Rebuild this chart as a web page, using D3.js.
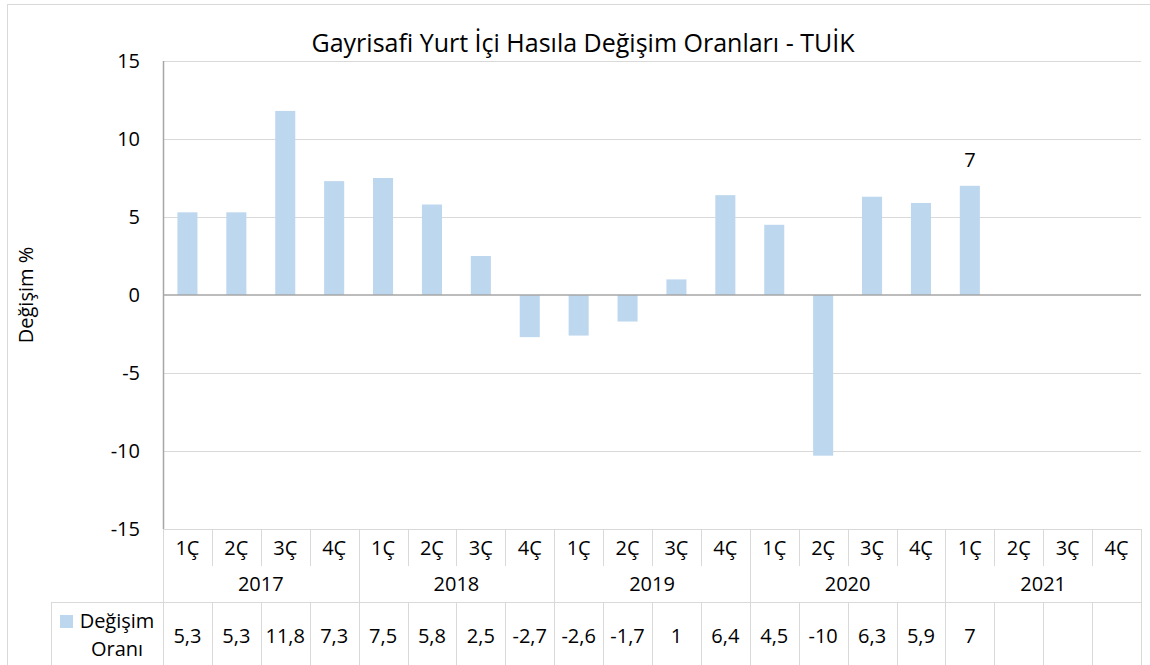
<!DOCTYPE html>
<html>
<head>
<meta charset="utf-8">
<script src="https://cdn.jsdelivr.net/npm/d3@7"></script>
<style>
  body { margin: 0; background: #fff; }
  text { font-family: "Open Sans", sans-serif; fill: #000; }
</style>
</head>
<body>
<svg id="chart" width="1150" height="665"></svg>
<script>
// Chart data
var years = ["2017", "2018", "2019", "2020", "2021"];
var quarters = ["1Ç", "2Ç", "3Ç", "4Ç"];
// bar heights (null = no data yet)
var values = [5.3, 5.3, 11.8, 7.3, 7.5, 5.8, 2.5, -2.7, -2.6, -1.7, 1, 6.4, 4.5, -10.3, 6.3, 5.9, 7, null, null, null];
// numbers as printed in the data table
var tableText = ["5,3", "5,3", "11,8", "7,3", "7,5", "5,8", "2,5", "-2,7", "-2,6", "-1,7", "1", "6,4", "4,5", "-10", "6,3", "5,9", "7", "", "", ""];
var yTicks = [15, 10, 5, 0, -5, -10, -15];
var titleText = "Gayrisafi Yurt İçi Hasıla Değişim Oranları - TUİK";
var yAxisName = "Değişim %";
var seriesName = ["Değişim", "Oranı"];

var fontSize = "20px";

// one key per quarter
var keys = [];
years.forEach(function(y) {
    quarters.forEach(function(q) { keys.push(y + "-" + q); });
});

var svg = d3.select("#chart");

// Scales
var scaleX = d3.scaleBand()
    .domain(keys)
    .range([163, 1141])
    .paddingInner(0.59)
    .paddingOuter(0.295);

var scaleY = d3.scaleLinear()
    .domain([-15, 15])
    .range([529, 61]);

// left edge of the cell of a category
function cellLeft(k) {
    return scaleX(k) + scaleX.bandwidth() / 2 - scaleX.step() / 2;
}

var gridColor = "#d9d9d9";

// outer chart border
svg.append("rect")
    .attr("x", 7.5).attr("y", 4.5)
    .attr("width", 1160).attr("height", 700)
    .attr("fill", "none")
    .attr("stroke", gridColor);

// Title
svg.append("text")
    .attr("x", 583)
    .attr("y", 52)
    .attr("text-anchor", "middle")
    .style("font-size", "25px")
    .text(titleText);

// Gridlines (skip zero, drawn later as axis line)
svg.append("g")
    .selectAll("line")
    .data(yTicks.filter(d => d !== 0))
    .enter()
    .append("line")
    .attr("x1", 163).attr("x2", 1141)
    .attr("y1", d => Math.round(scaleY(d)) + 0.5)
    .attr("y2", d => Math.round(scaleY(d)) + 0.5)
    .attr("stroke", gridColor)
    .attr("stroke-width", 1);

// Y axis (plain hyphen for negatives, like the original)
var yAxis = d3.axisLeft(scaleY)
    .tickValues(yTicks)
    .tickFormat(d => String(d))
    .tickSize(0)
    .tickPadding(23);

svg.append("g")
    .attr("transform", "translate(163,0)")
    .call(yAxis)
    .call(g => g.select(".domain").remove())
    .call(g => g.selectAll("text")
        .style("font-family", "'Open Sans', sans-serif")
        .style("font-size", fontSize)
        .attr("fill", "#000"));

// Y axis title
svg.append("text")
    .attr("transform", "translate(33,295) rotate(-90)")
    .attr("text-anchor", "middle")
    .style("font-size", fontSize)
    .text(yAxisName);

// Bars
svg.append("g")
    .selectAll("rect")
    .data(keys.map((k, i) => ({key: k, value: values[i]})).filter(d => d.value !== null))
    .enter()
    .append("rect")
    .attr("x", d => scaleX(d.key))
    .attr("width", scaleX.bandwidth())
    .attr("y", d => scaleY(Math.max(0, d.value)))
    .attr("height", d => Math.abs(scaleY(d.value) - scaleY(0)))
    .attr("fill", "#bdd7ee");

// Zero line and left axis line
svg.append("line")
    .attr("x1", 163).attr("x2", 1141)
    .attr("y1", scaleY(0)).attr("y2", scaleY(0))
    .attr("stroke", "#a6a6a6")
    .attr("stroke-width", 1.5);

svg.append("line")
    .attr("x1", 163.5).attr("x2", 163.5)
    .attr("y1", scaleY(15)).attr("y2", scaleY(-15))
    .attr("stroke", "#a6a6a6")
    .attr("stroke-width", 1.5);

// Data label on the last bar
var lastIdx = 16;
svg.append("text")
    .attr("x", scaleX(keys[lastIdx]) + scaleX.bandwidth() / 2)
    .attr("y", scaleY(values[lastIdx]) - 19)
    .attr("text-anchor", "middle")
    .style("font-size", fontSize)
    .text(values[lastIdx]);

// ---- Data table under the plot ----
var row1Top = 529, row2Top = 566, row3Top = 602, row3Bottom = 700;
var table = svg.append("g");

// horizontal line between category rows and value row
table.append("line")
    .attr("x1", 51).attr("x2", 1141)
    .attr("y1", row3Top + 0.5).attr("y2", row3Top + 0.5)
    .attr("stroke", gridColor);

// vertical lines: every quarter in row 1 and row 3, years through all rows
var bounds = keys.map(cellLeft).concat([1141]);
bounds.forEach(function(x, i) {
    var xx = Math.round(x) + 0.5;
    if (i % 4 === 0) {
        table.append("line")
            .attr("x1", xx).attr("x2", xx)
            .attr("y1", row1Top).attr("y2", row3Bottom)
            .attr("stroke", gridColor);
    } else {
        table.append("line")
            .attr("x1", xx).attr("x2", xx)
            .attr("y1", row1Top).attr("y2", row2Top)
            .attr("stroke", gridColor);
        table.append("line")
            .attr("x1", xx).attr("x2", xx)
            .attr("y1", row3Top).attr("y2", row3Bottom)
            .attr("stroke", gridColor);
    }
});
table.append("line")
    .attr("x1", 51.5).attr("x2", 51.5)
    .attr("y1", row3Top).attr("y2", row3Bottom)
    .attr("stroke", gridColor);

// quarter labels
table.selectAll(".q")
    .data(keys)
    .enter()
    .append("text")
    .attr("class", "q")
    .attr("x", d => scaleX(d) + scaleX.bandwidth() / 2)
    .attr("y", 555)
    .attr("text-anchor", "middle")
    .style("font-size", fontSize)
    .text(d => d.split("-")[1]);

// year labels
table.selectAll(".y")
    .data(years)
    .enter()
    .append("text")
    .attr("class", "y")
    .attr("x", d => (cellLeft(d + "-1Ç") + cellLeft(d + "-4Ç") + scaleX.step()) / 2)
    .attr("y", 591)
    .attr("text-anchor", "middle")
    .style("font-size", fontSize)
    .text(d => d);

// value row
table.selectAll(".v")
    .data(keys)
    .enter()
    .append("text")
    .attr("class", "v")
    .attr("x", d => scaleX(d) + scaleX.bandwidth() / 2)
    .attr("y", 643)
    .attr("text-anchor", "middle")
    .style("font-size", fontSize)
    .text((d, i) => tableText[i]);

// legend key inside the table
table.append("rect")
    .attr("x", 60).attr("y", 615)
    .attr("width", 13).attr("height", 13)
    .attr("fill", "#bdd7ee");

table.selectAll(".lg")
    .data(seriesName)
    .enter()
    .append("text")
    .attr("class", "lg")
    .attr("x", 117)
    .attr("y", (d, i) => 628 + i * 28)
    .attr("text-anchor", "middle")
    .style("font-size", fontSize)
    .text(d => d);
</script>
</body>
</html>
